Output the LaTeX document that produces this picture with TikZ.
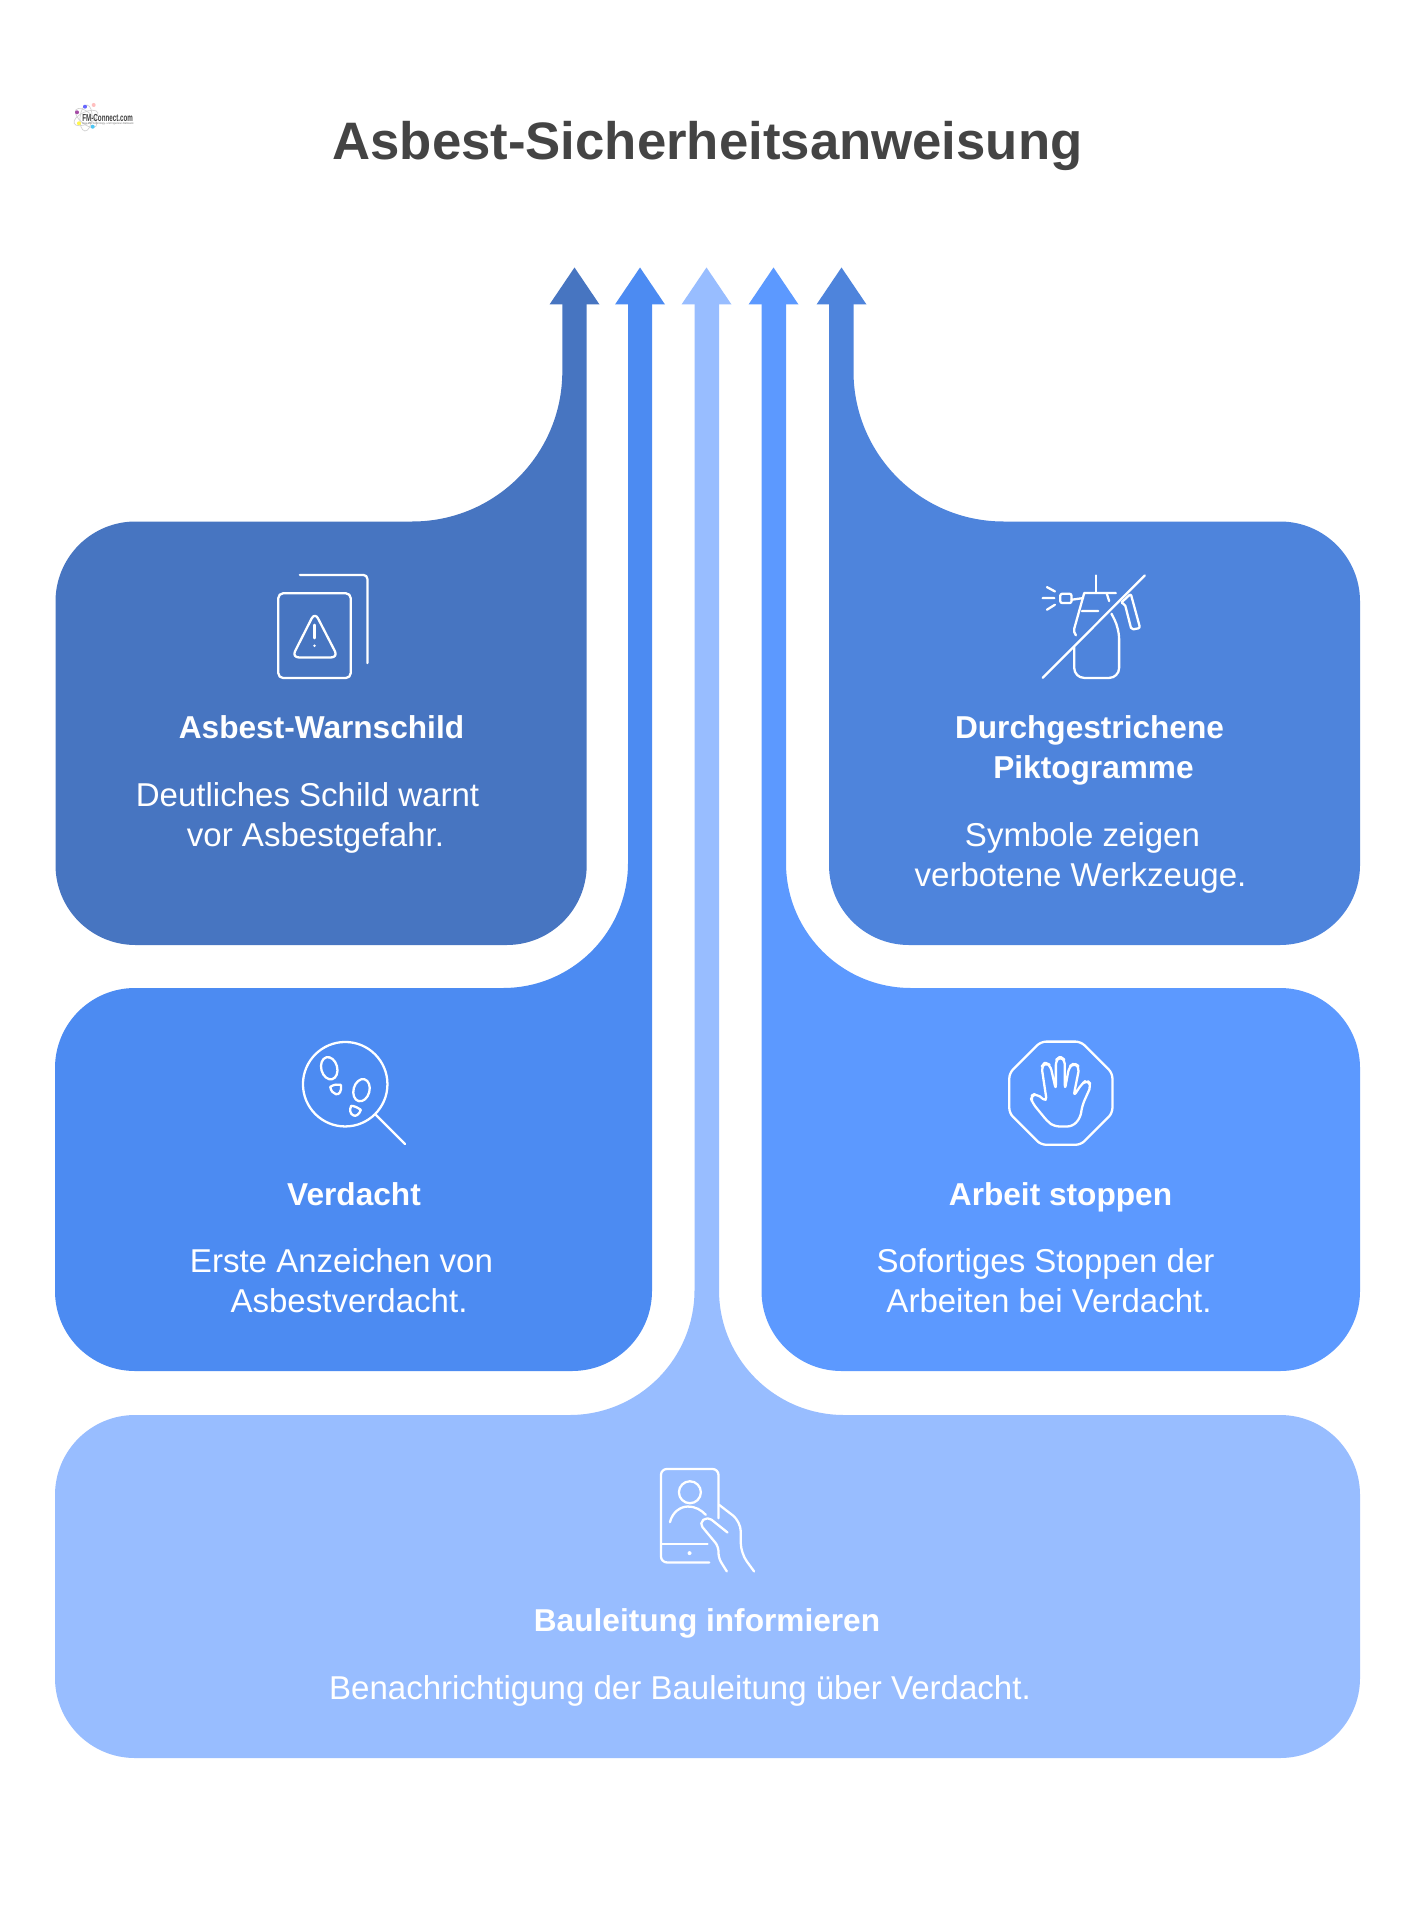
\documentclass[tikz,border=0pt]{standalone}
\usepackage{fontspec}
\setmainfont{Liberation Sans}
\definecolor{warnblue}{HTML}{4775C1}
\definecolor{suspblue}{HTML}{4C8BF2}
\definecolor{stopblue}{HTML}{5C99FF}
\definecolor{pictblue}{HTML}{4E84DC}
\definecolor{infoblue}{HTML}{98BDFF}
\definecolor{titlegray}{HTML}{444444}
\tikzset{
  boxhead/.style={white,anchor=base,inner sep=0pt,font=\fontsize{9.0}{11}\selectfont\bfseries},
  boxtext/.style={white,anchor=base,inner sep=0pt,font=\fontsize{9.4}{11}\selectfont},
  iconline/.style={white,line width=0.65pt,line cap=round,line join=round},
  icongrid/.style={x=0.0033333cm,y=-0.0033333cm}
}

\begin{document}
\begin{tikzpicture}[y=-1cm]
      \useasboundingbox(0,0)rectangle(14.15,19.2);
      \fill[white](0,0)rectangle(14.15,19.2);
      % logo
      \draw[gray!35,line width=0.2pt,rotate around={25:(0.86,1.18)}](0.86,1.18)ellipse[x radius=0.13,y radius=0.06];
      \draw[gray!35,line width=0.2pt,rotate around={-40:(0.86,1.18)}](0.86,1.18)ellipse[x radius=0.13,y radius=0.06];
      \draw[gray!35,line width=0.2pt,rotate around={85:(0.86,1.18)}](0.86,1.18)ellipse[x radius=0.13,y radius=0.06];
      \foreach \px/\py/\dotcol in {0.77/1.123/violet!70,0.85/1.067/blue!60,0.937/1.05/pink,0.79/1.233/yellow!70,0.927/1.267/cyan!70}
        \fill[\dotcol](\px,\py)circle(0.02);
      \node[inner sep=0pt,anchor=west,text=black!75,xscale=0.61,font=\fontsize{2.9}{3}\selectfont\bfseries](logoname)at(0.82,1.175){FM-Connect.com};
      \node[inner sep=0pt,anchor=west,text=black!55,xscale=0.9,font=\fontsize{0.8}{1}\selectfont](logosub)at(0.82,1.24){Das FM-Technology- und Ingenieur-Netzwerk};
      % title
      \node[inner sep=0pt,anchor=base,text=titlegray,font=\fontsize{15}{18}\selectfont\bfseries](title)at(7.075,1.6){Asbest-Sicherheitsanweisung};
      % arrow heads
      \foreach \cx/\col in {5.745/warnblue,6.4/suspblue,7.065/infoblue,7.735/stopblue,8.415/pictblue}
        \fill[\col](\cx,2.675)--++(0.25,0.37)--++(-0.5,0)--cycle;
      % boxes with their shafts
      \fill[warnblue](5.867,3.04)[rounded corners=0.8cm]--(5.867,9.45)--(0.555,9.45)--(0.555,5.215)
        [rounded corners=1.5cm]--(5.623,5.215)[sharp corners]--(5.623,3.04)--cycle;
      \fill[pictblue](8.29,3.04)[rounded corners=0.8cm]--(8.29,9.45)--(13.6,9.45)--(13.6,5.215)
        [rounded corners=1.5cm]--(8.535,5.215)[sharp corners]--(8.535,3.04)--cycle;
      \fill[suspblue](6.52,3.04)[rounded corners=0.8cm]--(6.52,13.71)--(0.55,13.71)--(0.55,9.88)
        [rounded corners=1.25cm]--(6.28,9.88)[sharp corners]--(6.28,3.04)--cycle;
      \fill[stopblue](7.615,3.04)[rounded corners=0.8cm]--(7.615,13.71)--(13.6,13.71)--(13.6,9.88)
        [rounded corners=1.25cm]--(7.86,9.88)[sharp corners]--(7.86,3.04)--cycle;
      \fill[infoblue](6.945,3.04)[rounded corners=1.25cm]--(6.945,14.15)[rounded corners=0.8cm]--(0.55,14.15)
        --(0.55,17.58)--(13.6,17.58)--(13.6,14.15)[rounded corners=1.25cm]--(7.19,14.15)[sharp corners]--(7.19,3.04)--cycle;
      % texts
      \node[boxhead](warnhead)at(3.215,7.385){Asbest-Warnschild};
      \node[boxtext](warnline)at(3.075,8.06){Deutliches Schild warnt};
      \node[boxtext](warnlinb)at(3.155,8.46){vor Asbestgefahr.};
      \node[boxhead](picthead)at(10.895,7.385){Durchgestrichene};
      \node[boxhead](pictheac)at(10.935,7.785){Piktogramme};
      \node[boxtext](pictline)at(10.825,8.46){Symbole zeigen};
      \node[boxtext](pictlinb)at(10.805,8.86){verbotene Werkzeuge.};
      \node[boxhead](susphead)at(3.54,12.05){Verdacht};
      \node[boxtext](suspline)at(3.415,12.725){Erste Anzeichen von};
      \node[boxtext](susplinb)at(3.49,13.125){Asbestverdacht.};
      \node[boxhead](stophead)at(10.605,12.05){Arbeit stoppen};
      \node[boxtext](stopline)at(10.455,12.725){Sofortiges Stoppen der};
      \node[boxtext](stoplinb)at(10.49,13.125){Arbeiten bei Verdacht.};
      \node[boxhead](infohead)at(7.07,16.31){Bauleitung informieren};
      \node[boxtext](infoline)at(6.8,16.99){Benachrichtigung der Bauleitung über Verdacht.};
      % warning sign
      \begin{scope}[shift={(2.41,5.5)},icongrid,iconline]
        \draw[rounded corners=0.04cm](177,75)--(380,75)--(380,340);
        \draw[rounded corners=0.05cm](112,130)rectangle(330,385);
        \draw[rounded corners=0.07cm](222,187)--(292,323)--(153,323)--cycle;
        \draw(221,225)--(221,265);
        \fill[white](221,288)circle(4);
      \end{scope}
      % crossed out spray bottle
      \begin{scope}[shift={(10.21,5.605)},icongrid,iconline]
        \draw(372,45)--(65,353);
        \draw(226,45)--(226,98);
        \draw(285,98)--(190,98)--(160,205)--(160,215)--(165,225);
        \draw[rounded corners=0.02cm](118,100)rectangle(152,128);
        \draw(152,118)--(187,113);
        \draw(65,113)--(100,113)(78,80)--(102,93)(78,148)--(102,133);
        \draw(183,152)--(232,152)(258,100)--(265,122);
        \draw[rounded corners=0.1cm](272,160)--(295,205)--(295,353)--(160,353)--(160,260);
        \draw[rounded corners=0.02cm](300,128)--(330,100)--(358,203)--(332,208)--(312,130)--cycle;
      \end{scope}
      % magnifier with footprints
      \begin{scope}[shift={(2.86,10.25)},icongrid,iconline]
        \draw(178,178)circle(127);
        \draw(270,270)--(358,358);
        \draw[rotate around={15:(130,130)}](130,130)ellipse[x radius=24,y radius=34];
        \draw[rotate around={-15:(227,196)}](227,196)ellipse[x radius=24,y radius=34];
        \draw(133,186)..controls(145,178)and(155,178)..(165,180)..controls(168,200)and(160,210)..(150,208)..controls(142,206)and(135,198)..cycle;
        \draw(196,243)..controls(205,243)and(215,248)..(225,255)..controls(220,270)and(210,275)..(203,272)..controls(193,268)and(190,255)..cycle;
      \end{scope}
      % stop sign with hand
      \begin{scope}[shift={(9.91,10.25)},icongrid,iconline]
        \draw[rounded corners=0.05cm](150,50)--(270,50)--(365,145)--(365,265)--(270,360)--(150,360)--(55,265)--(55,145)--cycle;
        \draw[rounded corners=0.05cm](168,232)--(135,205)--(118,215)--(125,235)--(170,290)--(190,305)--(245,305)--(268,280)--(275,240)
          --(302,180)--(288,165)--(272,178)--(248,215)--(266,125)--(250,115)--(235,125)--(222,195)--(222,105)--(208,95)--(195,105)
          --(195,195)--(178,120)--(162,113)--(152,125)--cycle;
      \end{scope}
      % phone and hand
      \begin{scope}[shift={(6.41,14.5)},icongrid,iconline]
        \draw[rounded corners=0.06cm](233,205)--(233,57)--(60,57)--(60,338)--(205,338);
        \draw(62,283)--(200,283);
        \fill[white](146,310)circle(6);
        \draw(147,127)circle(33);
        \draw(87,217)..controls(95,185)and(120,170)..(140,170)..controls(165,170)and(180,180)..(195,195);
        \draw[rounded corners=0.1cm](235,165)--(300,215)--(300,310)--(340,365);
        \draw[rounded corners=0.05cm](260,248)--(200,200)--(175,220)--(233,290)--(233,325)--(258,365);
      \end{scope}
   \end{tikzpicture}
\end{document}
